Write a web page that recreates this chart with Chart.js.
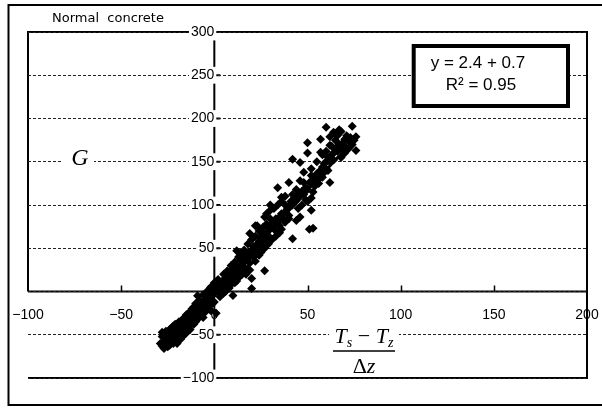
<!DOCTYPE html>
<html><head><meta charset="utf-8">
<script src="https://cdn.jsdelivr.net/npm/chart.js@4/dist/chart.umd.min.js"></script>
<style>html,body{margin:0;padding:0;background:#fff}canvas{display:block}</style>
</head><body>
<canvas id="c" width="602" height="408"></canvas>
<script>
const chartTitle = "Normal  concrete";
const xTicks = [-100, -50, 0, 50, 100, 150, 200];
const yTicks = [-100, -50, 0, 50, 100, 150, 200, 250, 300];
const eqLines = ["y = 2.4 + 0.7", "R\u00B2 = 0.95"];
const yLabel = "G";
const fracNum = ["T", "s", " \u2212 ", "T", "z"];
const fracDen = ["\u0394", "z"];

// lower-left part of the cloud
const lowX = [-28,-27,-27,-26,-26,-25,-25,-24,-24,-23,-23,-22,-22,-21,-21,-20,-20,-19,-19,-18,-18,-17,-17,-16,-16,-15,-15,-14,-14,-13,-13,-12,-12,-11,-11,-10,-10,-9,-8,-8,-7,-7,-6,-6,-5,-5,-4,-4,-3,-3,-2,-2,-1,-1,0,0];
const lowY = [-63,-66,-58,-61,-53,-57,-64,-55,-50,-59,-52,-48,-56,-52,-45,-49,-55,-46,-42,-50,-44,-40,-47,-43,-37,-40,-33,-36,-42,-31,-38,-34,-27,-30,-24,-28,-20,-25,-19,-27,-16,-22,-13,-20,-10,-17,-12,-6,-9,-15,-3,-8,-5,2,-2,4];
const low2X = [-29,-28,-28,-27,-26,-25,-24,-23,-22,-21,-20,-19,-18,-17,-16,-15,-14,-13,-12,-11,-10,-20,-18,-15,-13,-11,-9,-7,-5,-3,-1,-24,-22,-17,-10,-6,-2,0,-8,-6];
const low2Y = [-60,-52,-47,-50,-46,-49,-44,-42,-40,-38,-41,-35,-36,-32,-30,-27,-25,-24,-20,-18,-14,-60,-55,-48,-44,-38,-32,-28,-24,-20,-14,-62,-60,-52,-35,-30,-22,-12,-10,-4];
// middle part
const midX = [1,1,2,2,3,3,4,4,5,5,6,6,7,8,8,9,9,10,10,11,11,12,12,13,13,14,14,15,15,16,16,17,18,18,19,19,20,21,21,22,23,24,24,24,25,25,26,26,27,28,28,29,30,30,31,32,32,33,33,34,35,35,36,37,38,38,39,40,40];
const midY = [2,7,0,6,3,10,8,1,13,6,10,16,14,18,12,22,15,20,26,24,17,30,22,28,33,25,36,31,40,35,28,42,38,45,44,33,48,52,40,47,55,58,50,42,62,54,60,66,64,68,58,70,73,62,78,74,80,84,70,80,86,76,90,84,92,100,95,98,88];
const mid2X = [-4,-2,0,2,3,5,6,8,9,11,12,13,15,16,18,5,7,9,11,13,14,16,18,20,22,24,26,28,30,25,27,29,31,33,35,22,19,17,32,34,36,38,30,36,38,40];
const mid2Y = [0,5,10,14,-6,-2,0,4,8,10,12,16,20,22,26,20,24,30,34,40,44,48,55,60,64,70,74,78,84,45,50,55,60,64,68,35,25,20,96,100,104,110,100,72,80,84];
// upper part
const highX = [41,42,43,44,45,46,46,47,48,48,49,50,50,50,51,52,52,53,54,55,55,56,56,57,57,57,58,58,59,60,60,60,61,62,62,62,63,64,64,65,66,67,67,68,68,69,70,70,71,72,73,74,74,76,76,75];
const highY = [104,100,108,105,112,149,110,116,138,112,120,172,160,118,126,142,108,128,132,136,128,125,138,176,161,140,144,136,148,190,150,142,155,179,169,150,158,160,152,165,162,187,170,185,166,172,176,168,180,174,178,191,170,179,163,175];
const high2X = [47,49,44,52,54,56,58,55,58,60,63,65,66,64,70,72,68,61,59,42,45,48,50,53];
const high2Y = [100,106,118,134,122,130,132,150,158,162,168,175,180,184,160,165,155,140,138,112,96,126,104,115];
// scattered points away from the band
const outX = [-9,1,7,10,12,19,20,20,22,23,27,27,28,30,34,36,40,42,42,44,46,46,51,52,53,62];
const outY = [-5,-25,4.6,-4.6,47,67,3.5,15,76,76,24,86,90,94,120,109,126,153,61,82,128,86,72,94,73,126];
// trend line end points
const trendX = [-28, 76];
const trendY = [-66, 178];

const allX = [].concat(lowX, low2X, midX, mid2X, highX, high2X, outX);
const allY = [].concat(lowY, low2Y, midY, mid2Y, highY, high2Y, outY);
const scatterData = allX.map((v, i) => ({x: v, y: allY[i]}));
const trendData = trendX.map((v, i) => ({x: v, y: trendY[i]}));
const fmt = v => (v < 0 ? '\u2212' + Math.abs(v) : String(v));
const noPad = s => { s.paddingLeft = 0; s.paddingRight = 0; s.paddingTop = 0; s.paddingBottom = 0; };

const deco = {
  id: 'deco',
  beforeDraw(chart) {
    const {ctx, chartArea: a, scales: {x, y}} = chart;
    const x0 = x.getPixelForValue(0), y0 = y.getPixelForValue(0);
    ctx.save();
    ctx.fillStyle = '#fff';
    ctx.fillRect(0, 0, chart.width, chart.height);
    ctx.strokeStyle = '#000';
    ctx.lineWidth = 2;
    ctx.strokeRect(8.5, 5, 640, 400);
    ctx.beginPath();
    ctx.moveTo(a.left - 1, a.top); ctx.lineTo(a.right, a.top);
    ctx.moveTo(a.left, a.bottom); ctx.lineTo(a.right, a.bottom);
    ctx.moveTo(a.left, a.top); ctx.lineTo(a.left, y0);
    ctx.moveTo(a.left, y0); ctx.lineTo(a.right, y0);
    ctx.moveTo(x0, a.top); ctx.lineTo(x0, a.bottom);
    ctx.stroke();
    ctx.lineWidth = 1.5;
    ctx.beginPath();
    xTicks.forEach(v => {
      if (v === xTicks[0] || v === xTicks[xTicks.length - 1] || v === 0) return;
      const px = Math.round(x.getPixelForValue(v)) + 0.5;
      ctx.moveTo(px, y0); ctx.lineTo(px, y0 - 6);
    });
    ctx.stroke();
    ctx.lineWidth = 2;
    ctx.beginPath();
    yTicks.forEach(v => {
      const py = y.getPixelForValue(v);
      ctx.moveTo(x0, py); ctx.lineTo(x0 + 6, py);
    });
    ctx.stroke();
    ctx.fillStyle = '#000';
    ctx.font = '13px "DejaVu Sans"';
    ctx.textBaseline = 'middle';
    ctx.textAlign = 'left';
    ctx.fillText(chartTitle, 52, 19);
    ctx.restore();
  },
  beforeDatasetsDraw(chart) {
    const {ctx, chartArea: a} = chart;
    ctx.save();
    ctx.strokeStyle = '#000';
    ctx.lineWidth = 2;
    ctx.beginPath();
    ctx.moveTo(a.right, a.top - 1); ctx.lineTo(a.right, a.bottom + 1);
    ctx.stroke();
    // G label
    ctx.fillStyle = '#fff';
    ctx.fillRect(63, 145, 31, 22);
    ctx.fillStyle = '#000';
    ctx.font = 'italic 24px "Liberation Serif"';
    ctx.textAlign = 'center';
    ctx.textBaseline = 'alphabetic';
    ctx.fillText(yLabel, 80, 165);
    // fraction
    ctx.fillStyle = '#fff';
    ctx.fillRect(329, 326, 70, 20);
    ctx.fillStyle = '#000';
    const big = 'italic 22px "Liberation Serif"', small = 'italic 14px "Liberation Serif"', up = '22px "Liberation Serif"';
    const parts = [[fracNum[0], big, 0], [fracNum[1], small, 4], [fracNum[2], up, 0], [fracNum[3], big, 0], [fracNum[4], small, 4]];
    let w = 0;
    parts.forEach(p => { ctx.font = p[1]; w += ctx.measureText(p[0]).width; });
    let cx = 364 - w / 2;
    ctx.textAlign = 'left';
    parts.forEach(p => { ctx.font = p[1]; ctx.fillText(p[0], cx, 343 + p[2]); cx += ctx.measureText(p[0]).width; });
    ctx.lineWidth = 1.5;
    ctx.beginPath(); ctx.moveTo(333, 351); ctx.lineTo(395, 351); ctx.stroke();
    ctx.font = up; const dw = ctx.measureText(fracDen[0]).width;
    ctx.font = big; const zw = ctx.measureText(fracDen[1]).width;
    const dx = 364 - (dw + zw) / 2;
    ctx.font = up; ctx.fillText(fracDen[0], dx, 373);
    ctx.font = big; ctx.fillText(fracDen[1], dx + dw, 373);
    // equation box
    ctx.fillStyle = '#fff';
    ctx.fillRect(413, 46, 155, 60);
    ctx.lineWidth = 4;
    ctx.strokeRect(413.7, 46, 154.3, 60);
    ctx.fillStyle = '#000';
    ctx.font = '17px "Liberation Sans"';
    ctx.textAlign = 'center';
    ctx.textBaseline = 'middle';
    ctx.fillText(eqLines[0], 478, 63);
    ctx.fillText(eqLines[1], 481, 85);
    ctx.restore();
  }
};

new Chart(document.getElementById('c'), {
  type: 'scatter',
  data: {
    datasets: [
      {data: scatterData, pointStyle: 'rectRot', pointRadius: 4.5, backgroundColor: '#000', borderWidth: 0, order: 2},
      {data: trendData, showLine: true, borderColor: '#000', borderWidth: 3, pointRadius: 0, order: 1}
    ]
  },
  options: {
    responsive: false,
    animation: false,
    events: [],
    layout: {padding: {left: 28, top: 32, right: 15, bottom: 30}},
    plugins: {legend: {display: false}, tooltip: {enabled: false}},
    scales: {
      x: {
        type: 'linear', min: -100, max: 200, position: {y: 0},
        afterBuildTicks: s => { s.ticks = xTicks.map(v => ({value: v})); },
        afterFit: noPad,
        grid: {display: false, drawTicks: false},
        border: {display: false},
        ticks: {color: '#000', font: {family: 'Liberation Sans', size: 14}, padding: 15, maxRotation: 0, autoSkip: false, callback: fmt}
      },
      y: {
        type: 'linear', min: -100, max: 300, position: {x: 0},
        afterBuildTicks: s => { s.ticks = yTicks.map(v => ({value: v})); },
        afterFit: noPad,
        grid: {color: '#222', lineWidth: 1, drawTicks: false},
        border: {display: false, dash: [3, 2]},
        ticks: {color: '#000', font: {family: 'Liberation Sans', size: 14}, padding: 12, autoSkip: false, callback: fmt,
                showLabelBackdrop: true, backdropColor: '#fff', backdropPadding: {left: 2, right: 2, top: 0, bottom: 0}}
      }
    }
  },
  plugins: [deco]
});
</script>
</body></html>
